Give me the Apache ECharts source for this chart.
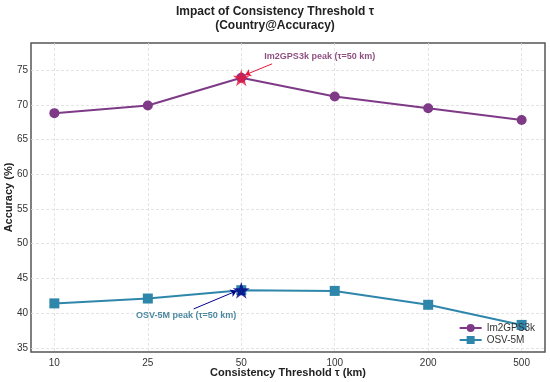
<!DOCTYPE html>
<html><head><meta charset="utf-8">
<script src="https://cdn.jsdelivr.net/npm/echarts@6/dist/echarts.min.js"></script>
<style>html,body{margin:0;padding:0;background:#fff}#c{width:550px;height:382px}</style>
</head><body><div id="c"></div>
<script>
const thresholds = ['10', '25', '50', '100', '200', '500'];
const im2gps = [68.8, 69.9, 73.9, 71.2, 69.5, 67.8];
const osv = [41.4, 42.1, 43.3, 43.2, 41.2, 38.3];
const yTicks = [35, 40, 45, 50, 55, 60, 65, 70, 75];
const peakIdx = 2;

const starPath = 'path://M50 0 L61.23 34.55 L97.55 34.55 L68.16 55.9 L79.39 90.45 L50 69.1 L20.61 90.45 L31.84 55.9 L2.45 34.55 L38.77 34.55 Z';
const purple = '#7E3A87';
const blue = '#2E86AB';
const font = 'Liberation Sans, Arial, sans-serif';

const toPts = arr => arr.map((v, i) => [i, v]);
const idx = thresholds.map((_, i) => i);

const chart = echarts.init(document.getElementById('c'));
chart.setOption({
  animation: false,
  title: {
    text: 'Impact of Consistency Threshold τ\n(Country@Accuracy)',
    left: 'center', top: 5, padding: 0,
    textStyle: { fontFamily: font, fontSize: 12, fontWeight: 'bold', color: '#222', lineHeight: 14 }
  },
  grid: { left: 31, right: 5, top: 43, bottom: 30, containLabel: false, outerBoundsMode: 'none', show: true, borderColor: '#555', borderWidth: 1.5 },
  legend: {
    orient: 'vertical', right: 10, bottom: 32, itemWidth: 22, itemHeight: 10, itemGap: 2,
    textStyle: { fontFamily: font, fontSize: 10, color: '#333' },
    data: ['Im2GPS3k', 'OSV-5M']
  },
  xAxis: {
    type: 'value', min: -0.25, max: 5.25,
    name: 'Consistency Threshold τ (km)', nameLocation: 'middle', nameGap: 15, nameMoveOverlap: false,
    nameTextStyle: { fontFamily: font, fontSize: 11, fontWeight: 'bold', color: '#222' },
    axisLine: { show: false },
    axisTick: { show: false, customValues: idx },
    axisLabel: { customValues: idx, formatter: v => thresholds[Math.round(v)], fontFamily: font, fontSize: 10, color: '#333', margin: 6 },
    splitLine: { show: true, lineStyle: { color: '#ddd', type: [3, 2], width: 0.8 } }
  },
  yAxis: {
    type: 'value', min: 34.4, max: 78.9,
    name: 'Accuracy (%)', nameLocation: 'middle', nameGap: 17, nameMoveOverlap: false,
    nameTextStyle: { fontFamily: font, fontSize: 11, fontWeight: 'bold', color: '#222' },
    axisLine: { show: false },
    axisTick: { show: false, customValues: yTicks },
    axisLabel: { customValues: yTicks, fontFamily: font, fontSize: 10, color: '#333', margin: 3 },
    splitLine: { show: true, lineStyle: { color: '#ddd', type: [3, 2], width: 0.8 } }
  },
  series: [
    {
      name: 'Im2GPS3k', type: 'line', data: toPts(im2gps),
      symbol: 'circle', symbolSize: 10, lineStyle: { color: purple, width: 2 },
      itemStyle: { color: purple }, z: 3,
      markLine: {
        silent: true, symbol: ['none', 'arrow'], symbolSize: 6,
        lineStyle: { color: '#E8173F', width: 1, type: 'solid', curveness: 0.12 },
        label: { show: false },
        data: [[{ coord: [2.33, 75.9] }, { coord: [peakIdx + 0.04, im2gps[peakIdx] + 0.4] }]]
      }
    },
    {
      name: 'OSV-5M', type: 'line', data: toPts(osv),
      symbol: 'rect', symbolSize: 10, lineStyle: { color: blue, width: 2 },
      itemStyle: { color: blue }, z: 3,
      markLine: {
        silent: true, symbol: ['none', 'arrow'], symbolSize: 6,
        lineStyle: { color: '#00008B', width: 1, type: 'solid', curveness: -0.15 },
        label: { show: false },
        data: [[{ coord: [1.49, 40.6] }, { coord: [peakIdx - 0.05, osv[peakIdx] - 0.1] }]]
      }
    },
    {
      type: 'scatter', data: [[peakIdx, im2gps[peakIdx]]], symbol: starPath, symbolSize: 17,
      itemStyle: { color: '#E8173F' }, z: 5, silent: true
    },
    {
      type: 'scatter', data: [[peakIdx, osv[peakIdx]]], symbol: starPath, symbolSize: 17,
      itemStyle: { color: '#00008B' }, z: 5, silent: true
    },
    {
      type: 'scatter', symbolSize: 0, silent: true,
      data: [{ value: [2.84, 76.9] }],
      label: { show: true, formatter: 'Im2GPS3k peak (τ=50 km)', position: 'inside', fontFamily: font, fontSize: 9, fontWeight: 'bold', color: '#6E1F5F' }
    },
    {
      type: 'scatter', symbolSize: 0, silent: true,
      data: [{ value: [1.41, 39.6] }],
      label: { show: true, formatter: 'OSV-5M peak (τ=50 km)', position: 'inside', fontFamily: font, fontSize: 9, fontWeight: 'bold', color: '#1F6A8A' }
    }
  ]
});
</script></body></html>
